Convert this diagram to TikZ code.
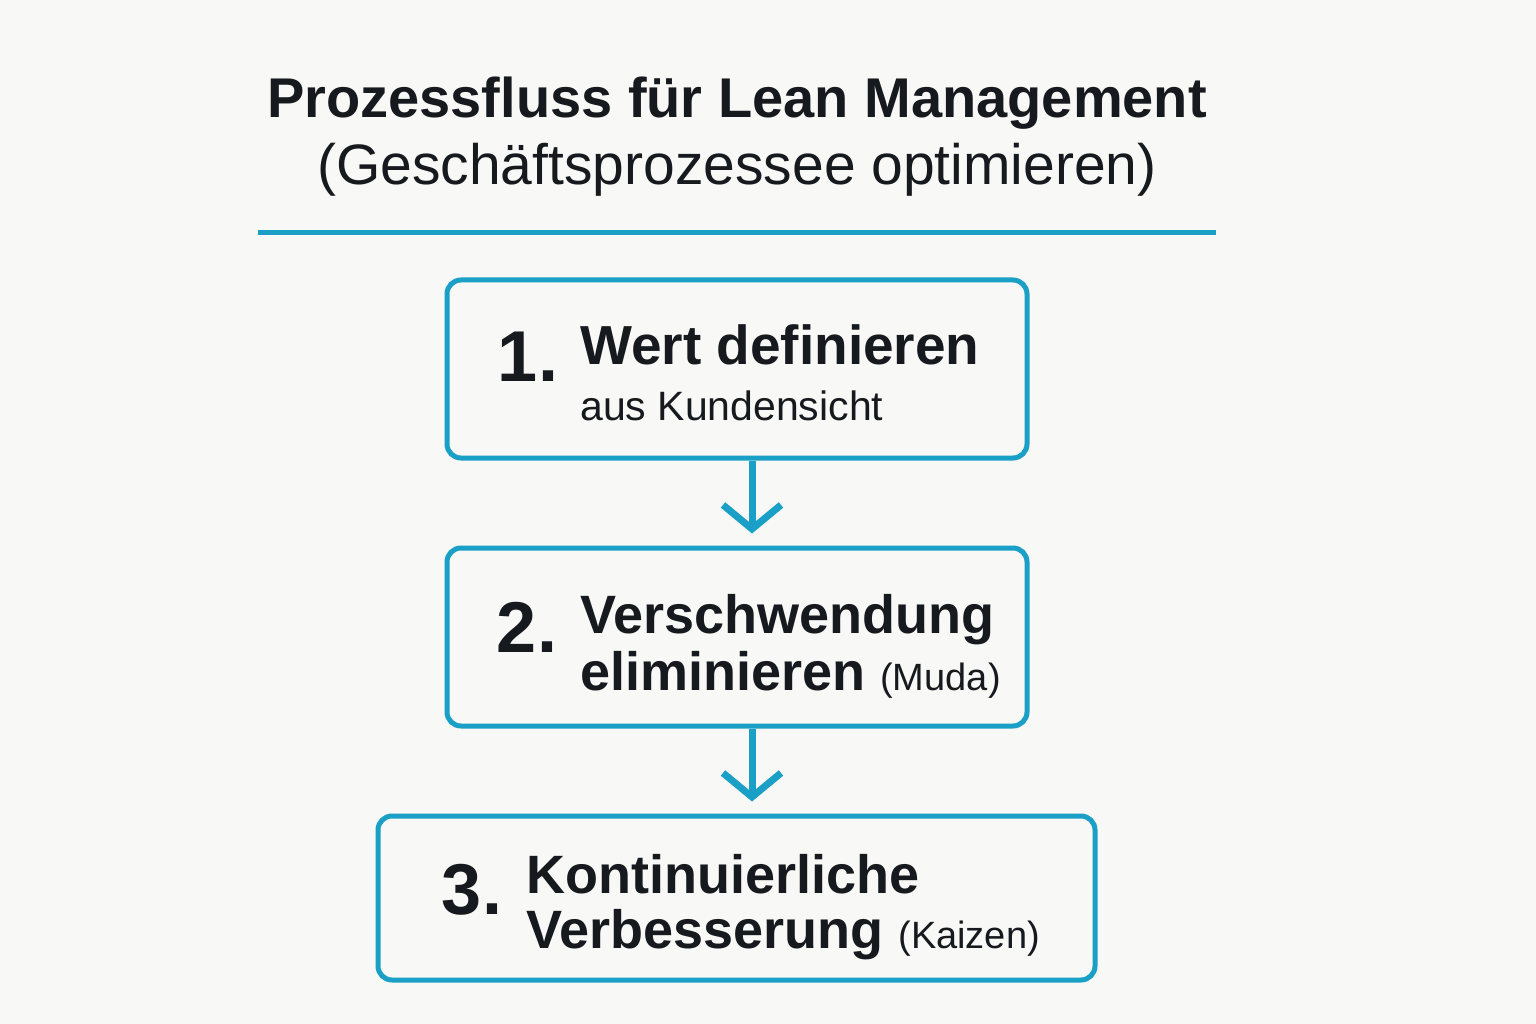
\documentclass[tikz,border=0pt]{standalone}
\usepackage{fontspec}
\setmainfont{Liberation Sans}
\usetikzlibrary{arrows.meta}
\definecolor{bg}{HTML}{F8F8F6}
\definecolor{acc}{HTML}{1A9FC6}
\definecolor{ink}{HTML}{16191D}
\tikzset{
  box/.style={draw=acc,line width=5pt,rounded corners=14pt},
  flow/.style={draw=acc,line width=7pt,-{Straight Barb[length=24pt,width=58pt,line width=7pt]},shorten >=12pt},
  big/.style={font=\fontsize{54}{60}\selectfont\bfseries,text=ink,anchor=base west,inner sep=0pt},
  small/.style={font=\fontsize{41}{44}\selectfont,text=ink,anchor=base west,inner sep=0pt},
  num/.style={font=\fontsize{72}{80}\selectfont\bfseries,text=ink,inner sep=0pt},
  ttl/.style={font=\fontsize{57}{60}\selectfont,text=ink,inner sep=0pt}
}
\begin{document}
\begin{tikzpicture}[x=1pt,y=-1pt]
\fill[bg] (0,0) rectangle (1536,1024);
\useasboundingbox (0,0) rectangle (1536,1024);
\node[ttl,font=\fontsize{56}{60}\selectfont\bfseries] (t1) at (737,103) {Prozessfluss für Lean Management};
\node[ttl] (t2) at (737,170) {(Geschäftsprozessee optimieren)};
\draw[acc,line width=5pt] (258,233) -- (1216,233);
\node[box,minimum width=580pt,minimum height=178pt] (b1) at (737,369) {};
\node[box,minimum width=580pt,minimum height=178pt] (b2) at (737,637) {};
\node[box,minimum width=717pt,minimum height=164pt] (b3) at (736.5,898) {};
\draw[flow] (b1.south -| 752,0) -- (b2.north -| 752,0);
\draw[flow] (b2.south -| 752,0) -- (b3.north -| 752,0);
\node[num] (n1) at (528,357) {1.};
\node[big,font=\fontsize{55}{60}\selectfont\bfseries] (l1a) at (580,364) {Wert definieren};
\node[small] (l1b) at (580,420) {aus Kundensicht};
\node[num] (n2) at (527,627) {2.};
\node[big] (l2a) at (580,633) {Verschwendung};
\node[big] (l2b) at (580,690) {eliminieren \fontsize{38}{42}\selectfont\mdseries(Muda)};
\node[num] (n3) at (472,890) {3.};
\node[big] (l3a) at (526,893) {Kontinuierliche};
\node[big] (l3b) at (526,948) {Verbesserung \fontsize{38}{42}\selectfont\mdseries(Kaizen)};
\end{tikzpicture}
\end{document}
